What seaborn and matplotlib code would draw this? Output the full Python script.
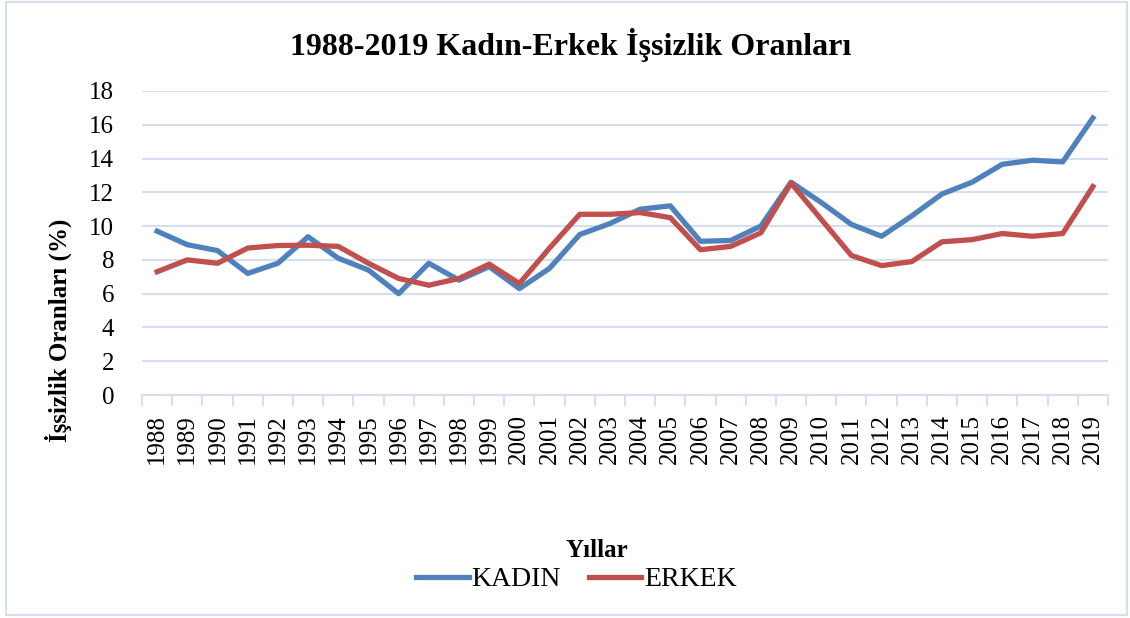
import pandas as pd
import matplotlib.pyplot as plt
import seaborn as sns
from matplotlib.patches import Rectangle

# Values (%)
years = list(range(1988, 2020))
kadin = [9.7, 8.9, 8.55, 7.2, 7.8, 9.37, 8.1, 7.4, 6.0, 7.8, 6.8, 7.6,
         6.3, 7.5, 9.5, 10.15, 11.0, 11.2, 9.1, 9.15, 10.0, 12.6,
         11.4, 10.1, 9.4, 10.6, 11.9, 12.6, 13.66, 13.9, 13.8, 16.4]
erkek = [7.3, 8.0, 7.8, 8.7, 8.85, 8.87, 8.8, 7.8, 6.9, 6.5, 6.9, 7.75,
         6.6, 8.7, 10.7, 10.7, 10.8, 10.5, 8.6, 8.8, 9.6, 12.55,
         10.4, 8.26, 7.66, 7.9, 9.07, 9.2, 9.56, 9.4, 9.56, 12.34]
yticks = list(range(0, 19, 2))

df = pd.DataFrame({'pos': list(range(len(years))) * 2,
                   'oran': kadin + erkek,
                   'grup': ['KADIN'] * len(years) + ['ERKEK'] * len(years)})

plt.rcParams['font.family'] = ['Liberation Serif', 'DejaVu Serif']

fig = plt.figure(figsize=(11.3, 6.18), dpi=100)
ax = fig.add_axes([0.1257, 0.3608, 0.8548, 0.492])

grid_col = '#D5DFEF'
sns.lineplot(data=df, x='pos', y='oran', hue='grup',
             palette={'KADIN': '#4F81BD', 'ERKEK': '#C0504D'},
             linewidth=3.8, ax=ax)

ax.set_xlim(-0.5, len(years) - 0.5)
ax.set_ylim(0, 18)
ax.set_yticks(yticks)
ax.set_yticklabels([str(t) for t in yticks], fontsize=18)
ax.set_xticks(range(len(years)))
ax.set_xticklabels([str(y) for y in years], rotation=90, fontsize=18)
ax.set_xticks([i - 0.5 for i in range(len(years) + 1)], minor=True)
ax.tick_params(axis='x', which='major', length=0, pad=14)
ax.tick_params(axis='x', which='minor', length=8, color=grid_col, width=1.5)
ax.tick_params(axis='y', length=0, pad=20)

ax.grid(axis='y', color=grid_col, linewidth=1.5)
ax.set_axisbelow(True)
for side in ['left', 'right', 'top']:
    ax.spines[side].set_visible(False)
ax.spines['bottom'].set_color(grid_col)
ax.spines['bottom'].set_linewidth(1.5)

ax.set_xlabel('Yıllar', fontsize=18, fontweight='bold')
ax.xaxis.set_label_coords(0.471, -0.475)
ax.set_ylabel('İşsizlik Oranları (%)', fontsize=18, fontweight='bold')
ax.yaxis.set_label_coords(-0.072, 0.214)

fig.suptitle('1988-2019 Kadın-Erkek İşsizlik Oranları', fontsize=23,
             fontweight='bold', x=0.505, y=0.955)

sns.move_legend(ax, 'center', bbox_to_anchor=(0.51, 0.062),
                bbox_transform=fig.transFigure, ncol=2, title=None,
                frameon=False, fontsize=20, handlelength=1.9,
                handletextpad=0.1, columnspacing=1.0)

fig.patches.append(Rectangle((0.005, 0.005), 0.992, 0.991, transform=fig.transFigure,
                             fill=False, edgecolor=grid_col, linewidth=1.5))

plt.savefig('out.png', dpi=100)
